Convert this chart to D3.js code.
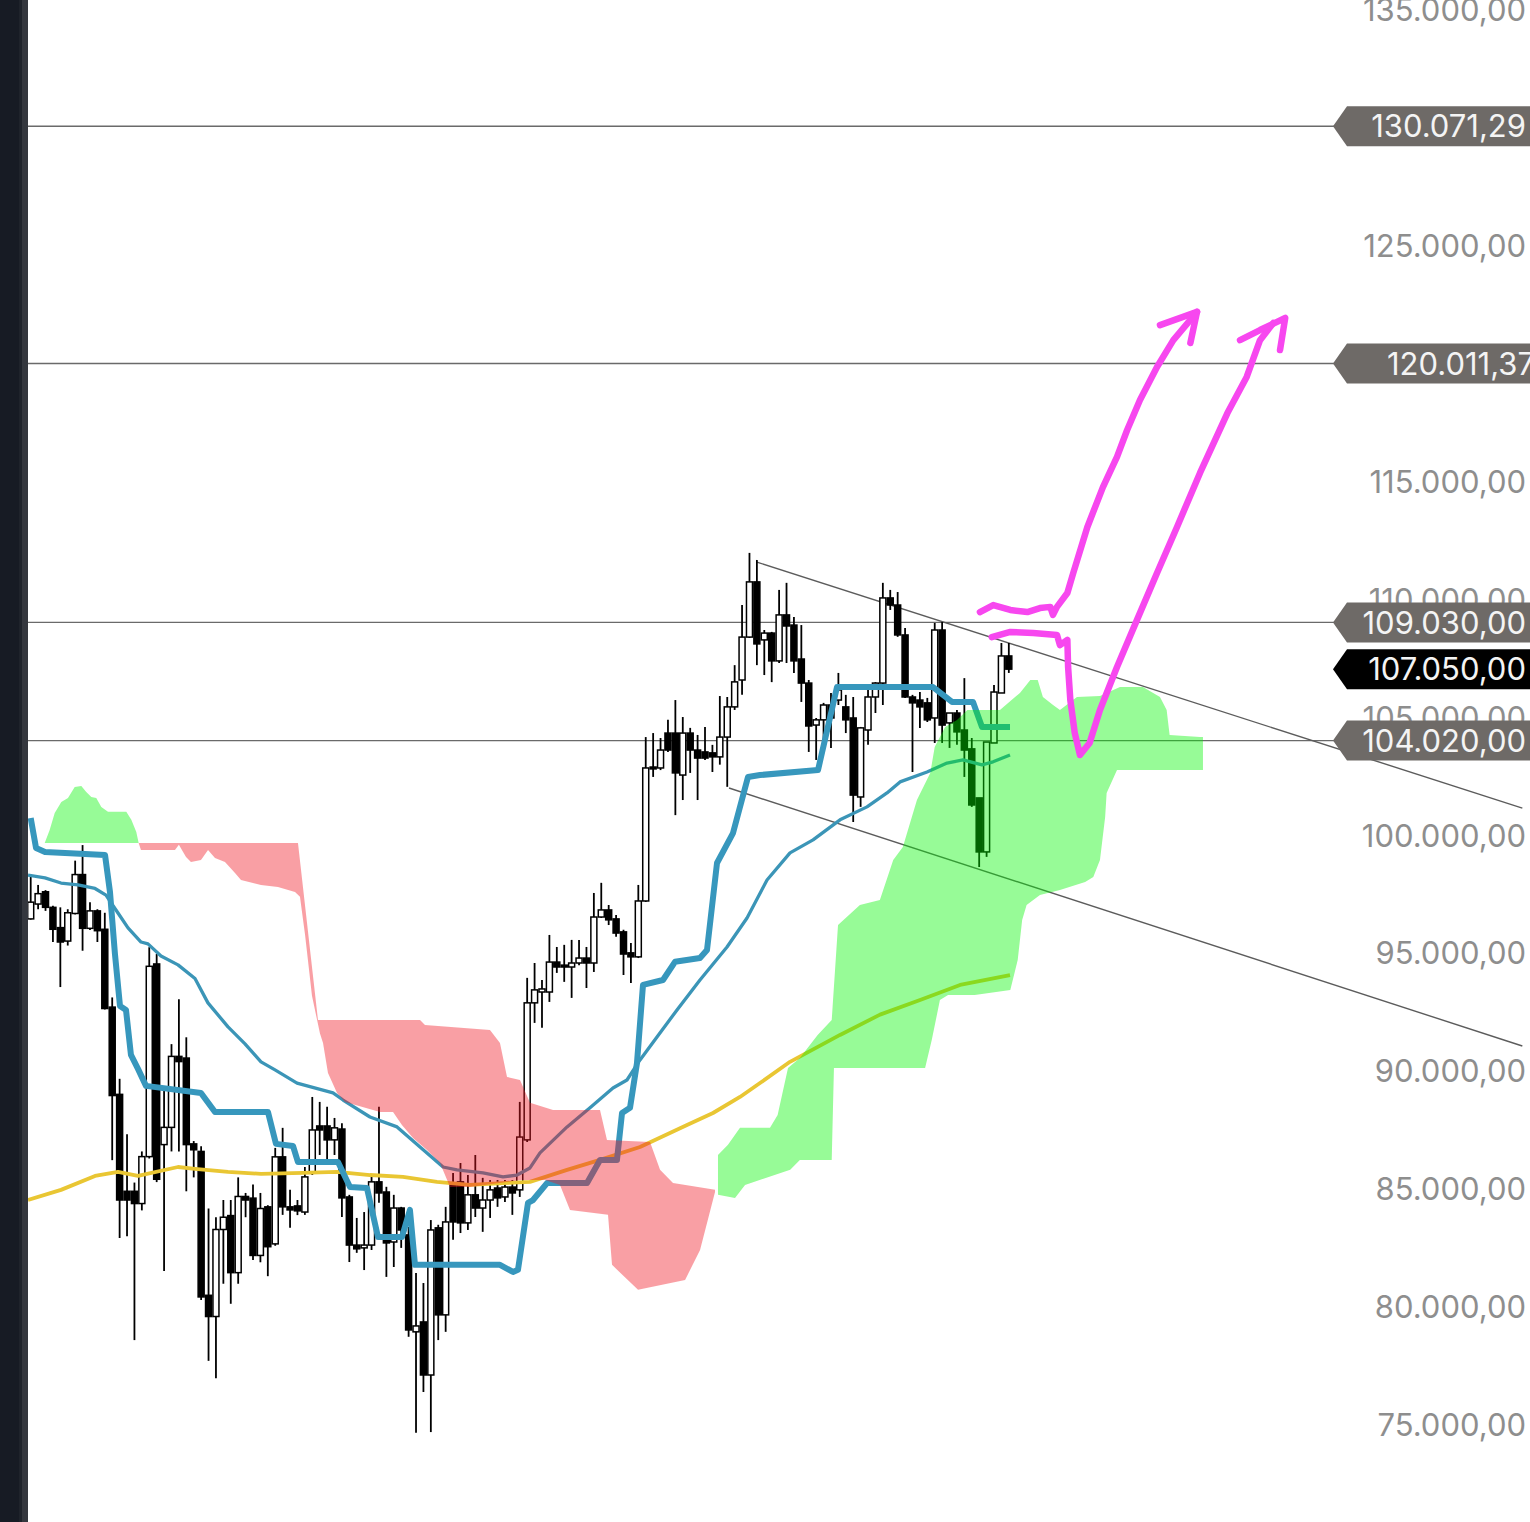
<!DOCTYPE html>
<html><head><meta charset="utf-8">
<script src="https://cdn.jsdelivr.net/npm/d3@7"></script>
<style>html,body{margin:0;padding:0;background:#fff;overflow:hidden}svg{display:block}</style>
</head><body>
<script>
// ---------- DATA (prices in thousands) ----------
const open  = [96.46,97.09,97.61,96.95,96.09,95.52,96.69,98.34,96.06,96.80,96.02,92.72,89.02,84.91,84.91,84.39,86.38,94.55,86.89,87.62,90.63,90.56,86.92,86.60,80.50,79.60,83.29,83.88,81.46,84.69,84.62,82.19,84.25,82.68,86.37,84.25,84.29,84.03,85.69,87.68,87.68,87.09,87.55,84.67,82.63,82.51,82.63,85.31,84.88,82.76,84.20,83.06,78.95,79.37,77.12,83.36,79.67,85.18,85.31,83.57,84.76,84.20,84.54,85.05,84.67,85.09,84.97,87.09,92.90,93.36,93.36,94.63,94.50,94.42,94.59,94.80,94.59,96.54,96.84,96.46,95.91,95.02,94.85,97.22,102.90,102.86,104.34,104.34,102.56,104.34,103.62,103.54,103.50,103.33,104.17,105.45,106.59,108.41,110.75,108.29,108.58,107.40,109.35,108.92,107.48,106.46,104.68,104.90,105.53,105.74,105.45,104.98,101.63,104.47,105.87,106.46,110.07,109.77,108.50,105.87,105.74,105.62,104.98,108.71,104.77,105.19,104.47,103.67,101.59,99.30,103.92,106.04,107.61];
const high  = [98.34,97.90,97.68,97.02,96.95,96.87,98.93,99.59,97.17,96.87,96.72,93.13,89.68,87.33,85.28,86.60,95.26,94.97,89.24,91.15,93.05,91.44,87.04,86.82,84.18,83.81,84.54,84.54,85.50,84.84,85.20,84.84,84.32,86.75,87.60,84.97,84.54,85.94,88.91,88.70,88.49,88.02,87.80,84.76,83.78,84.03,85.52,88.49,85.10,84.76,84.25,83.40,81.45,81.02,83.69,83.49,84.25,85.69,86.11,85.60,86.45,85.48,85.39,85.39,85.39,85.39,88.70,93.96,94.59,93.87,95.78,95.27,95.36,95.57,95.57,95.27,97.56,97.99,97.05,96.63,96.00,95.44,97.90,104.17,104.34,104.13,104.90,105.74,105.02,104.56,104.26,104.60,103.84,105.91,105.87,107.22,109.77,111.98,111.68,108.71,108.63,110.41,110.71,109.26,108.92,106.59,104.98,105.62,106.04,106.89,105.96,105.87,104.60,106.17,106.50,110.71,110.41,110.32,108.80,105.96,106.08,105.83,109.01,109.05,105.19,105.32,106.67,104.13,101.59,103.96,106.38,108.16,108.16];
const low   = [96.43,96.87,96.80,95.48,93.57,95.33,96.65,95.11,95.99,95.48,92.62,86.23,82.93,83.00,78.60,84.10,86.30,85.30,81.53,86.60,86.60,84.91,85.50,80.30,77.72,76.98,80.99,80.14,80.99,83.81,82.00,81.90,81.31,82.60,83.91,83.36,83.90,83.91,85.60,86.45,86.24,86.45,83.82,81.91,82.30,81.57,82.42,84.42,81.28,81.70,82.51,78.74,74.67,76.40,74.70,78.60,78.95,82.85,83.14,83.27,83.82,83.19,83.78,84.25,84.46,83.91,84.67,87.00,92.05,91.84,92.94,94.17,93.79,93.11,94.50,93.53,94.21,96.50,96.20,95.70,94.08,93.74,94.80,97.18,102.48,102.77,103.54,100.86,101.50,102.65,101.50,103.20,102.69,103.00,102.06,105.32,105.96,108.37,107.22,106.80,106.50,107.31,107.31,106.89,105.66,103.54,103.20,103.71,103.71,105.53,104.34,100.57,101.21,103.84,105.19,105.53,109.56,108.42,105.83,102.69,104.56,104.81,103.92,103.92,103.71,103.84,102.48,101.21,98.66,99.09,103.92,106.04,106.89];
const close = [97.17,97.53,96.95,96.02,95.48,96.72,98.34,96.06,96.80,95.96,92.66,88.97,84.54,84.54,84.39,86.38,94.45,85.42,87.62,90.63,90.41,86.89,86.67,80.43,79.60,83.29,83.81,81.46,84.69,84.54,82.19,84.18,82.56,86.37,84.25,84.12,84.08,85.52,87.51,87.51,87.09,87.60,84.63,82.63,82.47,82.63,85.31,84.84,82.72,84.20,83.27,79.03,79.20,77.12,83.27,79.67,83.61,83.61,83.57,84.76,84.20,84.54,84.97,84.63,85.09,84.84,87.21,92.90,93.45,93.49,94.63,94.42,94.42,94.59,94.80,94.59,96.54,96.84,96.42,95.86,94.97,94.85,97.22,102.86,102.82,103.62,103.62,102.65,104.34,103.62,103.28,103.28,103.33,104.17,105.45,106.51,108.41,110.75,108.12,108.58,107.40,109.35,108.88,107.40,106.46,104.64,104.90,105.53,104.98,106.17,104.90,101.71,104.56,105.87,106.46,110.07,109.77,108.50,105.87,105.62,105.45,104.90,108.71,104.68,105.19,104.39,103.62,101.29,99.30,103.96,106.08,107.61,107.05];

// Kijun-like step line [candle index, price]
const kijun = [[0,100.74],[0.72,99.47],[1.93,99.3],[10.03,99.17],[10.7,97.6],[11.37,94.97],[12.05,92.77],[12.86,92.6],[13.53,90.69],[14.48,90.1],[15.56,89.38],[22.98,89.08],[24.87,88.27],[32.02,88.27],[33.1,86.92],[35.4,86.83],[36.07,86.15],[41.47,86.15],[43.09,85.09],[45.38,85.05],[46.87,82.97],[50.1,82.97],[51.18,84.12],[51.86,81.79],[63.33,81.79],[65.09,81.49],[65.76,81.58],[67.11,84.42],[67.79,84.54],[69.68,85.26],[75.08,85.26],[76.83,86.24],[79.12,86.24],[79.8,88.23],[80.88,88.45],[81.82,90.35],[82.63,93.66],[85.33,93.87],[86.95,94.64],[90.32,94.8],[91.27,95.14],[92.62,98.83],[94.78,100.1],[96.8,102.48],[98.42,102.56],[106.25,102.77],[108.81,106.29],[121.77,106.29],[124.33,105.66],[127.17,105.66],[128.38,104.6],[132.16,104.6]];
// thin moving average
const ma = [[-0.36,98.32],[1.93,98.2],[4.09,97.98],[6.38,97.9],[8.68,97.75],[10.16,97.47],[11.78,96.71],[13.13,96.08],[14.89,95.48],[15.83,95.4],[17.58,94.89],[19.88,94.51],[22.17,93.93],[23.92,92.9],[26.63,91.88],[28.92,91.16],[31.08,90.4],[32.97,90.06],[35.94,89.5],[40.8,89.08],[42.15,88.78],[45.79,88.06],[49.44,87.64],[52.54,86.79],[55.65,85.94],[57.53,85.82],[61.04,85.69],[63.74,85.52],[65.63,85.6],[67.38,85.9],[68.73,86.54],[72.38,87.64],[75.48,88.45],[78.58,89.29],[80.47,89.63],[82.23,90.48],[84.52,91.45],[87.22,92.6],[90.32,93.87],[93.97,95.27],[96.67,96.5],[99.37,98.11],[102.47,99.26],[105.58,99.81],[109.22,100.66],[112.86,101.21],[115.56,101.8],[117.32,102.27],[120.96,102.69],[123.66,103.07],[125.82,103.2],[128.38,102.99],[129.87,103.12],[132.16,103.41]];
// long moving average (yellow)
const maLong = [[-0.36,84.54],[4.09,84.97],[8.68,85.56],[11.78,85.73],[14.48,85.56],[19.88,85.94],[22.17,85.86],[26.63,85.73],[31.08,85.65],[36.75,85.69],[41.33,85.73],[45.79,85.6],[50.24,85.52],[54.83,85.31],[59.28,85.18],[63.74,85.26],[67.38,85.31],[72.38,85.82],[76.83,86.24],[82.23,86.79],[88.57,87.72],[92.08,88.23],[95.72,88.91],[98.42,89.5],[102.47,90.4],[109.22,91.54],[114.62,92.4],[120.02,93.02],[125.42,93.66],[132.16,94.08]];

// cloud edges [index, price]
const greenEarlyUpper = [[1.89,99.68],[2.56,100.23],[3.24,100.95],[4.13,101.42],[5.03,101.59],[5.94,102.05],[6.83,102.1],[7.5,101.84],[8.18,101.63],[8.85,101.59],[9.53,101.21],[10.43,101.0],[12.9,101.0],[13.58,100.66],[14.25,100.15],[14.57,99.68]];
const greenEarlyLower = [[1.89,99.68],[14.57,99.68]];
const redUpper = [[14.57,99.68],[36.07,99.68],[38.77,92.17],[52.54,92.17],[53.21,91.96],[61.98,91.75],[63.33,91.2],[64.28,89.76],[66.03,89.63],[67.38,88.66],[70.49,88.36],[76.83,88.36],[77.77,87.09],[83.58,87.0],[84.93,85.82],[86.68,85.26],[92.35,84.97]];
const redLower = [[14.57,99.68],[14.88,99.38],[19.47,99.38],[20.0,99.6],[20.96,99.09],[21.63,98.87],[22.98,98.96],[23.93,99.38],[24.87,99.04],[26.22,98.87],[27.57,98.41],[28.38,98.11],[31.08,97.9],[33.37,97.81],[35.67,97.6],[36.34,97.4],[37.02,95.8],[37.96,93.2],[39.04,91.6],[39.45,91.2],[40.12,89.93],[41.34,89.08],[42.42,88.7],[47.14,88.27],[48.9,88.27],[50.1,87.72],[51.6,87.17],[53.48,86.66],[55.24,86.11],[56.59,85.09],[59.29,85.09],[66.03,85.39],[69.41,85.39],[71.43,85.18],[72.78,84.12],[77.91,83.91],[78.45,81.79],[81.96,80.73],[88.31,81.15],[90.33,82.42],[92.35,84.88]];
const greenLateUpper = [[92.75,86.45],[94.1,86.88],[95.72,87.6],[99.77,87.6],[100.8,88.15],[102.2,90.14],[103.8,90.56],[106.2,91.54],[108.1,92.17],[108.95,96.2],[111.9,97.05],[114.6,97.26],[116.4,98.96],[117.7,99.51],[119.6,101.5],[121.4,102.65],[122.0,103.75],[123.4,104.6],[125.0,104.89],[126.4,105.32],[130.8,105.32],[133.5,106.04],[134.9,106.59],[135.9,106.59],[136.6,105.87],[137.97,105.53],[138.9,105.32],[141.2,105.87],[144.3,105.91],[147.0,106.29],[150.1,106.29],[152.4,105.87],[153.3,105.32],[153.7,104.26],[157.8,104.17],[158.2,104.17]];
const greenLateLower = [[92.75,84.76],[95.05,84.63],[96.4,85.18],[102.5,85.82],[103.8,86.24],[108.1,86.24],[108.4,90.14],[120.7,90.14],[121.6,91.32],[122.7,93.02],[123.8,93.23],[127.4,93.23],[132.2,93.45],[133.2,94.72],[133.8,96.41],[134.4,97.05],[136.2,97.47],[138.9,97.69],[142.3,98.03],[143.4,98.24],[144.3,98.96],[145.0,100.78],[145.2,101.8],[146.6,102.77],[158.2,102.77]];

// trend channel lines [index, price]
const trendUpper = [[98.0,111.59],[201.3,101.16]];
const trendLower = [[94.24,102.01],[201.3,91.07]];

// horizontal levels and current price
const levels = [130071.29, 120011.37, 109030.00, 104020.00];
const lastPrice = 107050.00;
// tick labels visible in the reference (130 and 120 are hidden under the level tags)
const tickValues = [135,125,115,110,105,100,95,90,85,80,75];

// hand-drawn annotations [index, price]
const draw1 = [[128.1,109.47],[129.9,109.77],[132.2,109.56],[134.5,109.47],[136.2,109.64],[137.6,109.69],[137.96,109.35],[138.5,109.69],[139.9,110.28],[140.7,111.13],[142.6,113.08],[144.7,114.77],[146.6,116.05],[147.97,117.19],[149.7,118.46],[152.0,119.86],[154.2,121.0],[156.5,121.86],[157.4,122.2]];
const head1 = [[152.4,121.64],[157.4,122.2],[156.5,120.88]];
const draw2 = [[129.7,108.41],[132.2,108.63],[135.3,108.58],[138.5,108.5],[138.9,108.07],[139.9,108.29],[140.0,107.14],[140.3,105.74],[140.9,104.34],[141.6,103.41],[142.9,103.92],[144.3,105.32],[146.6,107.14],[149.3,109.14],[152.0,111.13],[154.7,113.08],[157.8,115.37],[161.5,117.91],[164.1,119.44],[165.9,121.0],[167.7,121.73]];
const head2 = [[163.2,121.0],[165.9,121.43],[169.3,121.94],[168.6,120.58]];

// ---------- DRAW ----------
const W = 1530, H = 1522;
const svg = d3.select("body").append("svg").attr("width", W).attr("height", H);
const x = d3.scaleLinear().domain([0, 132]).range([30.7, 30.7 + 7.41 * 132]);
const y = d3.scaleLinear().domain([75, 135]).range([1425, 10]);
const fmt = d3.formatLocale({decimal: ",", thousands: ".", grouping: [3], currency: ["", ""]}).format(",.2f");

svg.append("rect").attr("width", W).attr("height", H).attr("fill", "#fff");
svg.append("defs").append("clipPath").attr("id", "plot").append("rect").attr("x", 28).attr("y", 0).attr("width", W - 28).attr("height", H);
const plot = svg.append("g").attr("clip-path", "url(#plot)");
const line = d3.line().x(d => x(d[0])).y(d => y(d[1]));

// horizontal levels
plot.selectAll("line.lvl").data(levels).join("line").attr("class", "lvl")
  .attr("x1", 28).attr("x2", 1340).attr("y1", d => y(d / 1000)).attr("y2", d => y(d / 1000))
  .attr("stroke", "#6a6a6a").attr("stroke-width", 1.3);
// trend channel
[trendUpper, trendLower].forEach(t => plot.append("path").attr("d", line(t)).attr("fill", "none").attr("stroke", "#5c5c5c").attr("stroke-width", 1.4));

// candles
const idx = d3.range(open.length);
const bw = 6;
const cg = plot.append("g");
cg.selectAll("line.wick").data(idx).join("line")
  .attr("x1", i => x(i)).attr("x2", i => x(i)).attr("y1", i => y(high[i])).attr("y2", i => y(low[i]))
  .attr("stroke", "#000").attr("stroke-width", 1.8);
cg.selectAll("rect.body").data(idx).join("rect")
  .attr("x", i => x(i) - bw / 2).attr("width", bw)
  .attr("y", i => y(Math.max(open[i], close[i])))
  .attr("height", i => Math.max(1.5, Math.abs(y(open[i]) - y(close[i]))))
  .attr("fill", i => close[i] >= open[i] ? "#fff" : "#000")
  .attr("stroke", "#000").attr("stroke-width", 1.5);

// indicator lines
plot.append("path").attr("d", line(maLong)).attr("fill", "none").attr("stroke", "#e9c633").attr("stroke-width", 3.8).attr("stroke-linejoin", "round");
plot.append("path").attr("d", line(ma)).attr("fill", "none").attr("stroke", "#3b95b7").attr("stroke-width", 3.3).attr("stroke-linejoin", "round");
plot.append("path").attr("d", line(kijun)).attr("fill", "none").attr("stroke", "#3797bd").attr("stroke-width", 6).attr("stroke-linejoin", "round");

// clouds (translucent overlay)
function cloud(up, lo, col) {
  const pts = up.concat(lo.slice().reverse());
  plot.append("path").attr("d", line(pts) + "Z").attr("fill", col).attr("fill-opacity", 0.41).attr("stroke", "none");
}
cloud(greenEarlyUpper, greenEarlyLower, "rgb(2,245,2)");
cloud(redUpper, redLower, "rgb(241,22,34)");
cloud(greenLateUpper, greenLateLower, "rgb(2,245,2)");

// hand drawings
[draw1, head1, draw2, head2].forEach(dd => plot.append("path").attr("d", line(dd)).attr("fill", "none")
  .attr("stroke", "#f747ef").attr("stroke-width", 6.5).attr("stroke-linecap", "round").attr("stroke-linejoin", "round"));

// axis labels
const ff = "Inter, 'Noto Sans', sans-serif";
svg.selectAll("text.tick").data(tickValues).join("text").attr("class", "tick")
  .attr("x", 1526).attr("y", d => y(d)).attr("dy", "0.36em").attr("text-anchor", "end")
  .attr("font-family", ff).attr("font-size", 31).attr("fill", "#8e8e8e").text(d => fmt(d * 1000));

// price tags
function tag(v, col, dx) {
  const cy = y(v / 1000), tip = 1333, h = 20;
  svg.append("path").attr("d", `M${tip},${cy}L${tip + 14},${cy - h}L${W},${cy - h}L${W},${cy + h}L${tip + 14},${cy + h}Z`).attr("fill", col);
  svg.append("text").attr("x", 1526 + dx).attr("y", cy).attr("dy", "0.36em").attr("text-anchor", "end")
    .attr("font-family", ff).attr("font-size", 31).attr("fill", "#f4f4f4").text(fmt(v));
}
levels.forEach((v, k) => tag(v, "#6e6a67", k === 1 ? 9 : 0));
tag(lastPrice, "#000", 0);

// left dark strip
svg.append("rect").attr("x", 0).attr("y", 0).attr("width", 19).attr("height", H).attr("fill", "#171b24");
svg.append("rect").attr("x", 19).attr("y", 0).attr("width", 3).attr("height", H).attr("fill", "#1f232b");
svg.append("rect").attr("x", 22).attr("y", 0).attr("width", 6).attr("height", H).attr("fill", "#34373e");
</script>
</body></html>
